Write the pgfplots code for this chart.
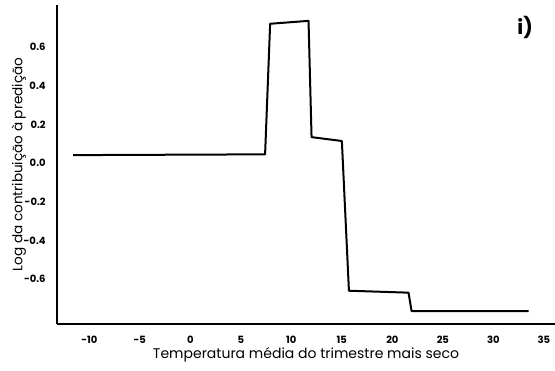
\documentclass[border=0pt]{standalone}
\usepackage{pgfplots}
\pgfplotsset{compat=1.18}
\usepackage{fontspec}
\setmainfont{Poppins}
\begin{document}
\begin{tikzpicture}
\begin{axis}[
  scale only axis,
  width=249pt, height=159.5pt,
  xmin=-13.2, xmax=36.1,
  ymin=-0.832, ymax=0.817,
  axis x line*=bottom, axis y line*=left,
  axis line style={line width=1pt, -},
  major tick length=0pt,
  xtick={-10,-5,0,5,10,15,20,25,30,35},
  xticklabels={-10,-5,0,5,10,15,20,25,30,35},
  ytick={-0.6,-0.4,-0.2,0,0.2,0.4,0.6},
  yticklabels={-0.6,-0.4,-0.2,0.0,0.2,0.4,0.6},
  tick label style={font=\fontsize{5}{6}\selectfont\bfseries, inner sep=0pt},
  yticklabel style={anchor=east, xshift=-5.5pt},
  xticklabel style={anchor=north, yshift=-5.7pt},
  every axis x label/.style={at={([yshift=-15.5pt]axis description cs:0.5,0)}, anchor=center, font=\fontsize{7}{8}\selectfont},
  every axis y label/.style={at={([xshift=-19pt]axis description cs:0,0.5)}, anchor=center, rotate=90, font=\fontsize{6.8}{8}\selectfont},
  xlabel={Temperatura média do trimestre mais seco},
  ylabel={Log da contribuição à predição},
  clip=false,
]
\addplot[black, line width=1pt, line join=round] coordinates {
(-11.6,0.041) (7.4,0.045) (7.9,0.72) (11.7,0.735) (12.0,0.134) (15.0,0.114) (15.7,-0.66) (21.6,-0.67) (21.9,-0.765) (33.5,-0.765)
};
\node[font=\fontsize{10}{12}\selectfont\bfseries] at (rel axis cs:0.94,0.931) {i)};
\coordinate (ll) at (rel axis cs:0,0);
\coordinate (ur) at (rel axis cs:1,1);
\end{axis}
\pgfresetboundingbox
\path[use as bounding box] ([shift={(-28.5pt,-23pt)}]ll) rectangle ([shift={(0pt,2.5pt)}]ur);
\end{tikzpicture}
\end{document}
